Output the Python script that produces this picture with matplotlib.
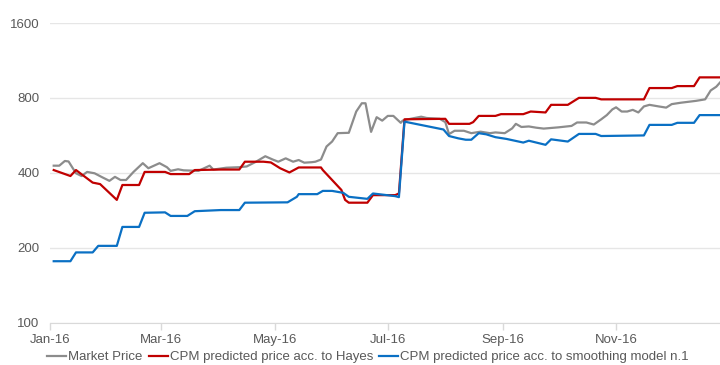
"""Market price vs. CPM predicted prices through 2016 (log-scale price axis)."""

import matplotlib

matplotlib.use("Agg")

import matplotlib.dates as mdates
import matplotlib.pyplot as plt
import pandas as pd
from matplotlib.ticker import FixedLocator, FuncFormatter, NullLocator

# Market price, sampled at its turning points
MARKET_DATES = [
    "2016-01-03", "2016-01-06", "2016-01-09", "2016-01-11", "2016-01-15",
    "2016-01-18", "2016-01-21", "2016-01-25", "2016-01-29", "2016-02-02",
    "2016-02-05", "2016-02-08", "2016-02-11", "2016-02-15", "2016-02-20",
    "2016-02-23", "2016-02-29", "2016-03-04", "2016-03-06", "2016-03-10",
    "2016-03-13", "2016-03-21", "2016-03-27", "2016-03-29", "2016-04-05",
    "2016-04-12", "2016-04-16", "2016-04-21", "2016-04-26", "2016-04-30",
    "2016-05-03", "2016-05-07", "2016-05-11", "2016-05-14", "2016-05-17",
    "2016-05-21", "2016-05-23", "2016-05-26", "2016-05-29", "2016-06-01",
    "2016-06-04", "2016-06-10", "2016-06-14", "2016-06-17", "2016-06-19",
    "2016-06-22", "2016-06-25", "2016-06-28", "2016-07-01", "2016-07-04",
    "2016-07-08", "2016-07-09", "2016-07-11", "2016-07-19", "2016-07-22",
    "2016-07-29", "2016-08-01", "2016-08-03", "2016-08-06", "2016-08-11",
    "2016-08-15", "2016-08-20", "2016-08-25", "2016-08-28", "2016-09-02",
    "2016-09-06", "2016-09-08", "2016-09-11", "2016-09-15", "2016-09-19",
    "2016-09-23", "2016-10-01", "2016-10-08", "2016-10-11", "2016-10-16",
    "2016-10-20", "2016-10-24", "2016-10-27", "2016-10-30", "2016-11-01",
    "2016-11-04", "2016-11-07", "2016-11-10", "2016-11-13", "2016-11-16",
    "2016-11-19", "2016-11-24", "2016-11-28", "2016-12-01", "2016-12-06",
    "2016-12-14", "2016-12-19", "2016-12-22", "2016-12-25", "2016-12-27",
]
MARKET_PRICE = [
    428, 428, 447, 445, 399, 389, 404, 399, 385, 372,
    386, 375, 375, 404, 438, 418, 438, 422, 408, 414,
    410, 408, 428, 413, 420, 422, 425, 444, 467, 453,
    444, 458, 444, 451, 440, 442, 444, 453, 511, 535,
    578, 580, 706, 762, 762, 585, 670, 649, 678, 678,
    636, 649, 655, 673, 665, 660, 640, 573, 591, 591,
    578, 586, 578, 582, 578, 604, 630, 612, 615, 608,
    603, 610, 618, 638, 638, 626, 657, 683, 720, 734,
    706, 706, 717, 700, 740, 751, 740, 732, 756, 766,
    779, 790, 858, 888, 923,
]

# CPM prediction, Hayes model (step changes)
HAYES_DATES = [
    "2016-01-03", "2016-01-12", "2016-01-15", "2016-01-24", "2016-01-28",
    "2016-02-06", "2016-02-09", "2016-02-18", "2016-02-21", "2016-03-03",
    "2016-03-06", "2016-03-16", "2016-03-19", "2016-04-02", "2016-04-12",
    "2016-04-15", "2016-04-25", "2016-04-29", "2016-05-04", "2016-05-09",
    "2016-05-14", "2016-05-26", "2016-05-27", "2016-06-06", "2016-06-08",
    "2016-06-10", "2016-06-20", "2016-06-23", "2016-07-05", "2016-07-07",
    "2016-07-10", "2016-08-01", "2016-08-03", "2016-08-14", "2016-08-16",
    "2016-08-19", "2016-08-28", "2016-08-31", "2016-09-12", "2016-09-16",
    "2016-09-24", "2016-09-27", "2016-10-06", "2016-10-12", "2016-10-21",
    "2016-10-24", "2016-11-16", "2016-11-19", "2016-12-01", "2016-12-04",
    "2016-12-13", "2016-12-16", "2016-12-27",
]
HAYES_PRICE = [
    411, 389, 411, 366, 361, 312, 358, 358, 404, 404,
    396, 396, 411, 413, 413, 444, 444, 441, 418, 402,
    421, 421, 411, 342, 312, 304, 304, 326, 326, 331,
    657, 660, 630, 630, 640, 678, 678, 689, 689, 706,
    700, 751, 751, 801, 801, 790, 790, 877, 877, 893,
    893, 968, 968,
]

# CPM prediction, smoothing model n.1
SMOOTH_DATES = [
    "2016-01-03", "2016-01-12", "2016-01-15", "2016-01-24", "2016-01-27",
    "2016-02-06", "2016-02-09", "2016-02-18", "2016-02-21", "2016-03-03",
    "2016-03-06", "2016-03-15", "2016-03-19", "2016-04-02", "2016-04-12",
    "2016-04-15", "2016-05-08", "2016-05-13", "2016-05-14", "2016-05-24",
    "2016-05-27", "2016-06-01", "2016-06-07", "2016-06-10", "2016-06-20",
    "2016-06-23", "2016-07-05", "2016-07-07", "2016-07-10", "2016-07-31",
    "2016-08-03", "2016-08-08", "2016-08-12", "2016-08-15", "2016-08-19",
    "2016-08-23", "2016-08-28", "2016-09-03", "2016-09-12", "2016-09-15",
    "2016-09-19", "2016-09-24", "2016-09-27", "2016-10-06", "2016-10-12",
    "2016-10-21", "2016-10-24", "2016-11-16", "2016-11-19", "2016-12-01",
    "2016-12-04", "2016-12-13", "2016-12-16", "2016-12-27",
]
SMOOTH_PRICE = [
    177, 177, 192, 192, 204, 204, 243, 243, 277, 278,
    269, 269, 281, 284, 284, 304, 305, 321, 329, 329,
    339, 339, 333, 321, 315, 331, 323, 320, 643, 598,
    563, 551, 544, 544, 578, 572, 557, 548, 530, 539,
    530, 519, 546, 535, 574, 574, 563, 566, 624, 624,
    636, 636, 683, 683,
]

Y_TICKS = [100, 200, 400, 800, 1600]

SERIES = [
    ("Market Price", MARKET_DATES, MARKET_PRICE, "#8c8c8c"),
    ("CPM predicted price acc. to Hayes", HAYES_DATES, HAYES_PRICE, "#c00000"),
    ("CPM predicted price acc. to smoothing model n.1", SMOOTH_DATES, SMOOTH_PRICE, "#0a70c4"),
]

plt.rcParams["font.family"] = ["Liberation Sans", "DejaVu Sans"]


def _render():
    fig = plt.figure(figsize=(7.2, 3.65), dpi=100)
    ax = fig.add_axes([50 / 720, 1 - 323 / 365, 670 / 720, 300 / 365])

    for label, dates, values, color in SERIES:
        ax.plot(pd.to_datetime(dates), values, color=color, linewidth=1.6,
                label=label, solid_joinstyle="round")

    ax.set_yscale("log", base=2)
    ax.set_ylim(100, 1600)
    ax.yaxis.set_major_locator(FixedLocator(Y_TICKS))
    ax.yaxis.set_minor_locator(NullLocator())
    ax.yaxis.set_major_formatter(FuncFormatter(lambda v, _: f"{v:.0f}"))

    ax.set_xlim(pd.Timestamp("2016-01-01"), pd.Timestamp("2016-12-27"))
    ax.xaxis.set_major_locator(mdates.MonthLocator(bymonth=[1, 3, 5, 7, 9, 11]))
    ax.xaxis.set_major_formatter(mdates.DateFormatter("%b-%y"))

    ax.grid(axis="y", color="#e6e6e6", linewidth=1.0)
    ax.set_axisbelow(True)
    for spine in ("top", "right", "left"):
        ax.spines[spine].set_visible(False)
    ax.spines["bottom"].set_color("#d9d9d9")

    ax.tick_params(axis="y", length=0, pad=7.5, labelsize=9.5, labelcolor="#595959")
    ax.tick_params(axis="x", length=5, width=1, color="#d9d9d9", pad=3,
                   labelsize=9.5, labelcolor="#595959")

    fig.legend(loc="center", bbox_to_anchor=(368 / 720, 1 - 357 / 365), ncol=3,
               frameon=False, fontsize=9.5, handlelength=1.45, handletextpad=0.15,
               columnspacing=0.45, borderaxespad=0, labelcolor="#595959")

    fig.savefig("out.png", dpi=100)


if __name__ == "__main__":
    _render()
